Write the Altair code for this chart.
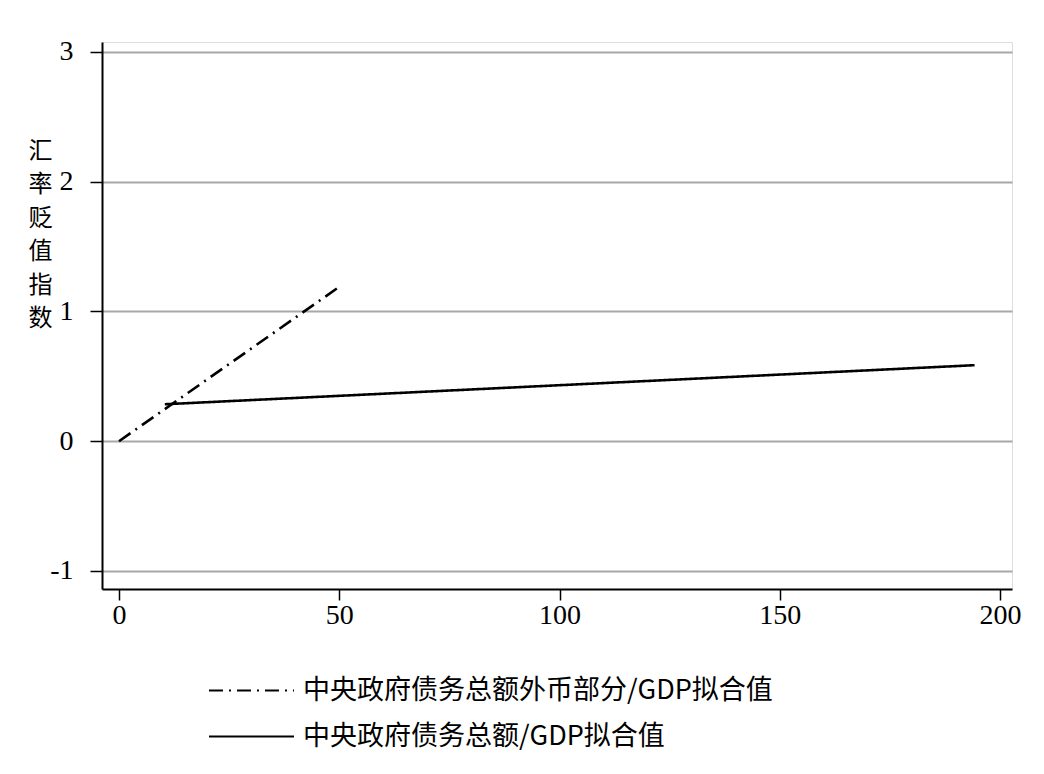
import altair as alt
import pandas as pd

series_names = ["中央政府债务总额外币部分/GDP拟合值", "中央政府债务总额/GDP拟合值"]
fx_x = [0, 50]
fx_y = [0.0, 1.19]
total_x = [10.4, 194.2]
total_y = [0.285, 0.586]
x_ticks = [0, 50, 100, 150, 200]
y_ticks = [-1, 0, 1, 2, 3]

rows = []
for x, y in zip(fx_x, fx_y):
    rows.append({"series": series_names[0], "x": x, "y": y})
for x, y in zip(total_x, total_y):
    rows.append({"series": series_names[1], "x": x, "y": y})
df = pd.DataFrame(rows)

cjk = "Noto Sans CJK SC"
serif = "Liberation Serif"

chart = alt.Chart(df).mark_line(strokeWidth=2.6, color="black").encode(
    x=alt.X("x:Q", scale=alt.Scale(domain=[-3.86, 202.7], nice=False, zero=False),
            axis=alt.Axis(values=x_ticks, title=None, grid=False, labelFont=serif,
                          labelFontSize=28, labelColor="black", tickSize=11,
                          tickColor="black", tickWidth=1.5, domainColor="black",
                          domainWidth=2, labelPadding=1, labelFlush=False)),
    y=alt.Y("y:Q", scale=alt.Scale(domain=[-1.139, 3.077], nice=False, zero=False),
            axis=alt.Axis(values=y_ticks, title=["汇", "率", "贬", "值", "指", "数"],
                          labelExpr="replace(datum.label, '−', '-')",
                          titleAngle=0, titleFont=cjk, titleFontSize=24,
                          titleFontWeight="normal", titleColor="black",
                          titleLineHeight=33.5, titleX=-62, titleY=97,
                          titleBaseline="top", titleAlign="center",
                          grid=True, gridColor="#a8a8a8", gridWidth=2,
                          labelFont=serif, labelFontSize=28, labelColor="black",
                          tickSize=12, tickColor="black", tickWidth=1.5,
                          domainColor="black", domainWidth=2, labelPadding=17)),
    strokeDash=alt.StrokeDash("series:N",
        scale=alt.Scale(domain=series_names, range=[[14, 6, 2, 6], [1, 0]]),
        legend=alt.Legend(title=None, orient="none", legendX=136, legendY=635,
                          direction="vertical", symbolType="M-4,0H4",
                          symbolSize=452, symbolStrokeWidth=2.2,
                          symbolStrokeColor="black", labelFont=cjk,
                          labelFontSize=27, labelColor="black", labelOffset=38,
                          rowPadding=18, labelLimit=800)),
).properties(
    width=910, height=547,
    padding={"left": 94, "top": 34, "right": 24, "bottom": 180},
    autosize=alt.AutoSizeParams(type="none"),
).configure_view(strokeWidth=0).configure(background="white")

chart.save("out.html", embed_options={"renderer": "svg", "actions": False})
